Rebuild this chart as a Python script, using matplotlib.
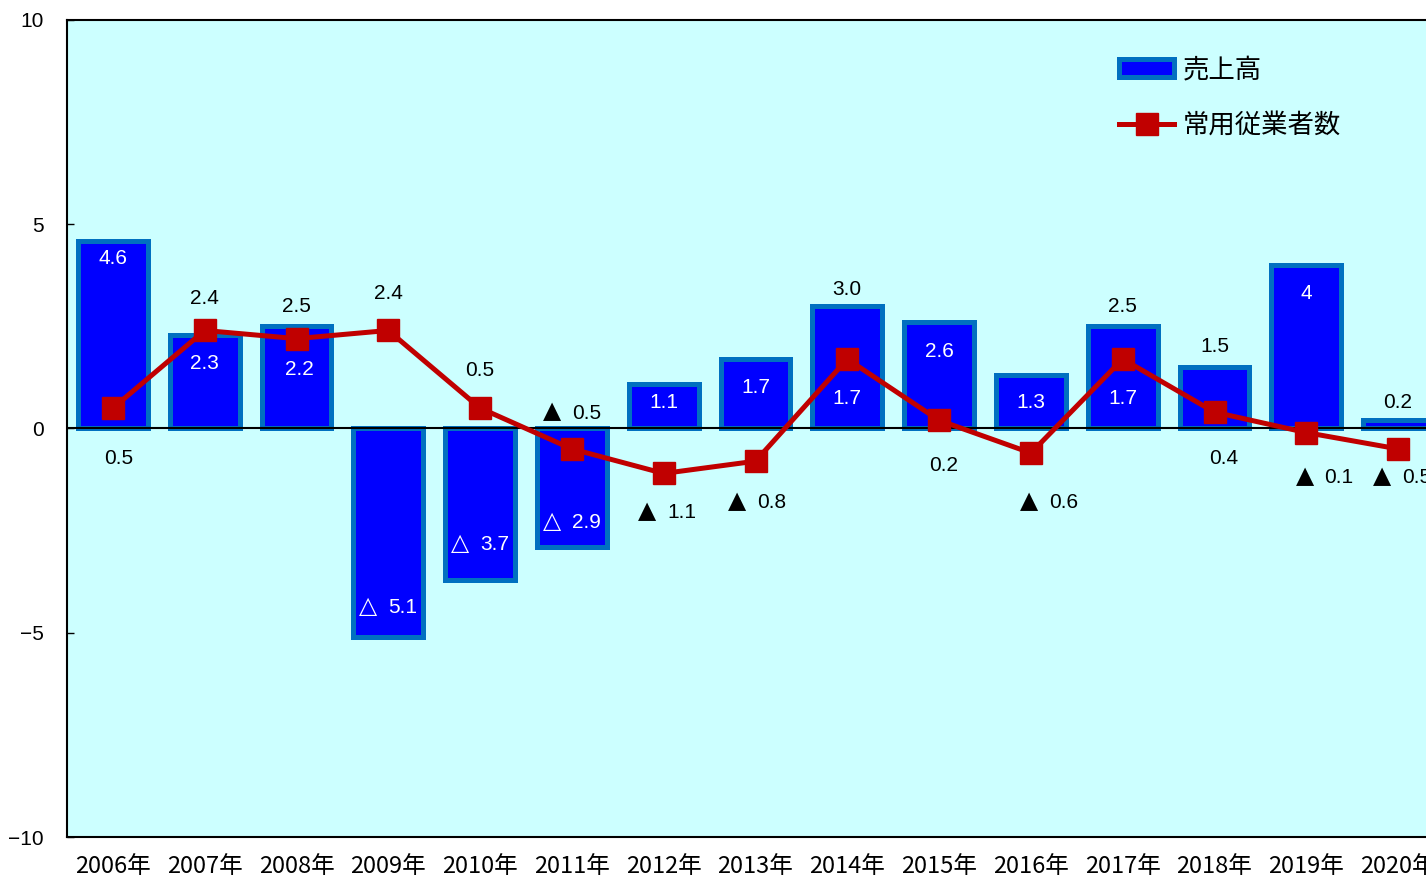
import matplotlib
matplotlib.use("Agg")
import matplotlib.pyplot as plt
from matplotlib.patches import Patch
from matplotlib.lines import Line2D

plt.rcParams['font.family'] = ['Noto Sans CJK JP', 'DejaVu Sans']

# データ
years = ['2006年', '2007年', '2008年', '2009年', '2010年', '2011年', '2012年', '2013年',
         '2014年', '2015年', '2016年', '2017年', '2018年', '2019年', '2020年']
sales = [4.6, 2.3, 2.5, -5.1, -3.7, -2.9, 1.1, 1.7, 3.0, 2.6, 1.3, 2.5, 1.5, 4.0, 0.2]
employees = [0.5, 2.4, 2.2, 2.4, 0.5, -0.5, -1.1, -0.8, 1.7, 0.2, -0.6, 1.7, 0.4, -0.1, -0.5]

sales_text = ['4.6', '2.3', '2.5', '△ 5.1', '△ 3.7', '△ 2.9', '1.1', '1.7',
              '3.0', '2.6', '1.3', '2.5', '1.5', '4', '0.2']
emp_text = ['0.5', '2.4', '2.2', '2.4', '0.5', '▲ 0.5', '▲ 1.1', '▲ 0.8',
            '1.7', '0.2', '▲ 0.6', '1.7', '0.4', '▲ 0.1', '▲ 0.5']

# ラベル配置 (値からのずれ, 文字色)
sales_dy = [-0.44, -0.7, 0.49, 0.77, 0.93, 0.65, -0.46, -0.7, 0.4, -0.72, -0.66, 0.49, 0.5, -0.7, 0.44]
sales_col = ['w', 'w', 'k', 'w', 'w', 'w', 'w', 'w', 'k', 'w', 'w', 'k', 'k', 'w', 'k']
emp_dy = [-1.23, 0.78, -0.76, 0.9, 0.92, 0.94, -0.9, -0.96, -0.97, -1.1, -1.14, -0.97, -1.13, -1.03, -0.63]
emp_dx = [0.06, 0.0, 0.03, 0.0, 0.0, 0.0, 0.04, 0.02, 0.0, 0.05, 0.2, 0.0, 0.1, 0.2, 0.04]
emp_col = ['k', 'k', 'w', 'k', 'k', 'k', 'k', 'k', 'w', 'k', 'k', 'w', 'k', 'k', 'k']

bar_fill = '#0000FF'
bar_edge = '#0070C0'
line_col = '#C00000'
num_font = ['Liberation Sans', 'DejaVu Sans']


def put_label(ax, xv, yv, s, col):
    # 三角記号は大きめに別描画 (数字とベースラインを揃える)
    if s[0] in '▲△':
        ax.annotate(s[0], (xv, yv), xytext=(-29, -8), textcoords='offset pixels',
                    ha='left', va='baseline', color=col, fontsize=17,
                    family='DejaVu Sans', zorder=5)
        ax.annotate(s[1:].strip(), (xv, yv), xytext=(29, -8), textcoords='offset pixels',
                    ha='right', va='baseline', color=col, fontsize=15,
                    family=num_font, zorder=5)
    else:
        ax.text(xv, yv, s, color=col, family=num_font,
                ha='center', va='center', fontsize=15, zorder=5)


fig = plt.figure(figsize=(14.26, 8.8), dpi=100)
ax = fig.add_axes([67 / 1426, 43 / 880, 1377 / 1426, 817 / 880])
ax.set_facecolor('#CCFFFF')

x = list(range(len(years)))
ax.bar(x, sales, width=0.76, color=bar_fill, edgecolor=bar_edge, linewidth=3.6, zorder=2)
ax.axhline(0, color='black', lw=1.5, zorder=3)
ax.plot(x, employees, color=line_col, lw=3.6, marker='s', markersize=16, zorder=4)

for i in x:
    put_label(ax, i, sales[i] + sales_dy[i], sales_text[i], sales_col[i])
    put_label(ax, i + emp_dx[i], employees[i] + emp_dy[i], emp_text[i], emp_col[i])

ax.set_xlim(-0.5, 14.5)
ax.set_ylim(-10, 10)
ax.set_yticks([-10, -5, 0, 5, 10])
ax.set_yticklabels(['−10', '−5', '0', '5', '10'], family=num_font)
ax.set_xticks(x)
ax.set_xticklabels(years)
ax.tick_params(axis='x', length=0, pad=13, labelsize=17)
ax.tick_params(axis='y', direction='in', length=5, width=1, pad=17, labelsize=15)
for s in ax.spines.values():
    s.set_linewidth(1.5)

handles = [
    Patch(facecolor=bar_fill, edgecolor=bar_edge, linewidth=3.6),
    Line2D([0], [0], color=line_col, lw=3.6, marker='s', markersize=16),
]
fig.legend(handles, ['売上高', '常用従業者数'], loc='upper left',
           bbox_to_anchor=(1119 / 1426, 1 - 56 / 880), frameon=False,
           fontsize=19, handlelength=2.1, handletextpad=0.3, labelspacing=1.1,
           borderpad=0, borderaxespad=0)

fig.savefig('out.png', dpi=100)
